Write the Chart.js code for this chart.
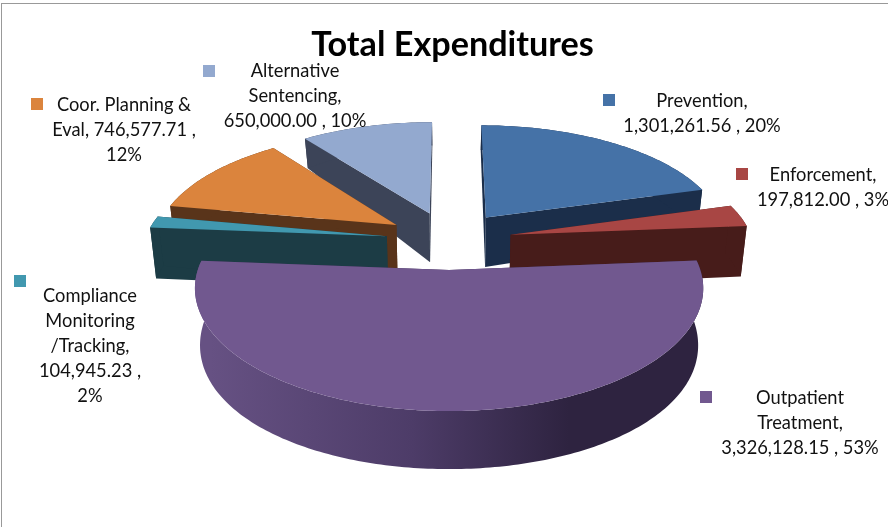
<!DOCTYPE html>
<html>
<head>
<meta charset="utf-8">
<style>
  html, body { margin: 0; padding: 0; background: #fff; }
  #frame { position: absolute; left: 1px; top: 3px; width: 900px; height: 540px; border: 1px solid #999; }
  #wrap { position: absolute; left: 0; top: 0; width: 888px; height: 527px; overflow: hidden; }
</style>
<script src="https://cdn.jsdelivr.net/npm/chart.js@4/dist/chart.umd.min.js"></script>
</head>
<body>
<div id="wrap">
  <div id="frame"></div>
  <canvas id="pie" width="888" height="527" style="position:absolute;left:0;top:0"></canvas>
</div>
<script>
const categories = ['Prevention', 'Enforcement', 'Outpatient Treatment', 'Compliance Monitoring /Tracking', 'Coor. Planning & Eval', 'Alternative Sentencing'];
const values = [1301261.56, 197812.00, 3326128.15, 104945.23, 746577.71, 650000.00];

const topColors = ['#4572a7', '#a84644', '#71588f', '#4198af', '#db843d', '#93a9cf'];
const wallColors = ['#1b2e4a', '#471c1a', '#3f3057', '#1c3c45', '#59341a', '#3c4458'];

/* data label text, wrapped the way the picture wraps it */
const labelLines = [
  ['Prevention,', '1,301,261.56 , 20%'],
  ['Enforcement,', '197,812.00 , 3%'],
  ['Outpatient', 'Treatment,', '3,326,128.15 , 53%'],
  ['Compliance', 'Monitoring', '/Tracking,', '104,945.23 ,', '2%'],
  ['Coor. Planning &', 'Eval, 746,577.71 ,', '12%'],
  ['Alternative', 'Sentencing,', '650,000.00 , 10%'],
];
/* marker x, marker y, text centre x, first line centre y */
const labelPlaces = [
  [603, 94, 702, 101],
  [736, 168, 823, 175],
  [700, 391, 800, 398],
  [14, 275, 90, 296],
  [31, 98, 124, 105],
  [203, 65, 295, 71],
];

const FONT = 'Lato, "Open Sans", sans-serif';
const EXPLODE = 252;              // chart.js draws offset / 4 px out
const PAINT_ORDER = [5, 4, 3, 0, 1, 2];

/* ── tilted view of the flat pie ── */
const view = { shiftX: -3.5, persp: 0.00059, squash: 0.46, drop: 0.98 };

function wallDepth(Y) {
  return 52.56 + 0.0576 * Y - 0.0001305 * Y * Y;
}

function project(cx, cy, X, Y, low) {
  const w = 1 - view.persp * Y;
  const f = low ? view.drop : 1;
  return {
    x: cx + view.shiftX + (X / w) * f,
    y: cy + view.squash * Y / w + (low ? wallDepth(Y) : 0),
  };
}

function fillPoly(ctx, pts, color) {
  ctx.beginPath();
  pts.forEach((p, i) => i ? ctx.lineTo(p.x, p.y) : ctx.moveTo(p.x, p.y));
  ctx.closePath();
  ctx.fillStyle = color;
  ctx.fill();
}

function drawSlice(ctx, arc, i) {
  const { x, y, startAngle, endAngle, outerRadius } = arc.getProps(['x', 'y', 'startAngle', 'endAngle', 'outerRadius']);
  const mid = (startAngle + endAngle) / 2;
  const out = arc.options.offset / 4;
  const ox = Math.cos(mid) * out;
  const oy = Math.sin(mid) * out;

  const rim = [];
  const steps = Math.max(4, Math.ceil((endAngle - startAngle) * 60));
  for (let s = 0; s <= steps; s++) {
    const a = startAngle + (endAngle - startAngle) * s / steps;
    rim.push([ox + Math.cos(a) * outerRadius, oy + Math.sin(a) * outerRadius]);
  }
  const hi = ([X, Y]) => project(x, y, X, Y, false);
  const lo = ([X, Y]) => project(x, y, X, Y, true);
  const apex = [ox, oy];

  // radial walls
  const first = rim[0], last = rim[rim.length - 1];
  fillPoly(ctx, [hi(apex), hi(first), lo(first), lo(apex)], wallColors[i]);
  fillPoly(ctx, [hi(apex), hi(last), lo(last), lo(apex)], wallColors[i]);

  // outer wall, the big slice shades from left to right
  let rimFill = wallColors[i];
  if (values[i] === Math.max(...values)) {
    rimFill = ctx.createLinearGradient(x - outerRadius, 0, x + outerRadius * 0.85, 0);
    rimFill.addColorStop(0, '#665183');
    rimFill.addColorStop(0.45, '#4d3c68');
    rimFill.addColorStop(0.8, '#2e2340');
    rimFill.addColorStop(1, '#2e2340');
  }
  fillPoly(ctx, rim.map(hi).concat(rim.map(lo).reverse()), rimFill);

  // top face
  fillPoly(ctx, [hi(apex)].concat(rim.map(hi)), arc.options.backgroundColor);
}

const pie3d = {
  id: 'pie3d',
  beforeDatasetsDraw(chart) {
    const arcs = chart.getDatasetMeta(0).data;
    const ctx = chart.ctx;
    ctx.save();
    PAINT_ORDER.forEach(i => drawSlice(ctx, arcs[i], i));
    ctx.restore();
    return false;
  },
  afterDraw(chart) {
    const ctx = chart.ctx;
    ctx.save();
    ctx.font = '18.3px ' + FONT;
    ctx.textAlign = 'center';
    ctx.textBaseline = 'middle';
    labelLines.forEach((lines, i) => {
      const [mx, my, tx, ty] = labelPlaces[i];
      ctx.fillStyle = topColors[i];
      ctx.fillRect(mx, my, 12, 12);
      ctx.fillStyle = '#111';
      lines.forEach((line, n) => ctx.fillText(line, tx, ty + n * 25));
    });
    ctx.restore();
  },
};

new Chart(document.getElementById('pie'), {
  type: 'pie',
  data: {
    labels: categories,
    datasets: [{
      data: values,
      backgroundColor: topColors,
      offset: EXPLODE,
      borderWidth: 0,
      radius: 242,
    }],
  },
  options: {
    responsive: false,
    animation: false,
    events: [],
    layout: { padding: { left: 17, right: 0, top: 0, bottom: 112 } },
    plugins: {
      legend: { display: false },
      tooltip: { enabled: false },
      title: {
        display: true,
        text: 'Total Expenditures',
        color: '#000',
        font: { family: FONT, size: 34.2, weight: 'bold', lineHeight: 1.2 },
        padding: { top: 24, bottom: 0 },
      },
    },
  },
  plugins: [pie3d],
});
</script>
</body>
</html>
